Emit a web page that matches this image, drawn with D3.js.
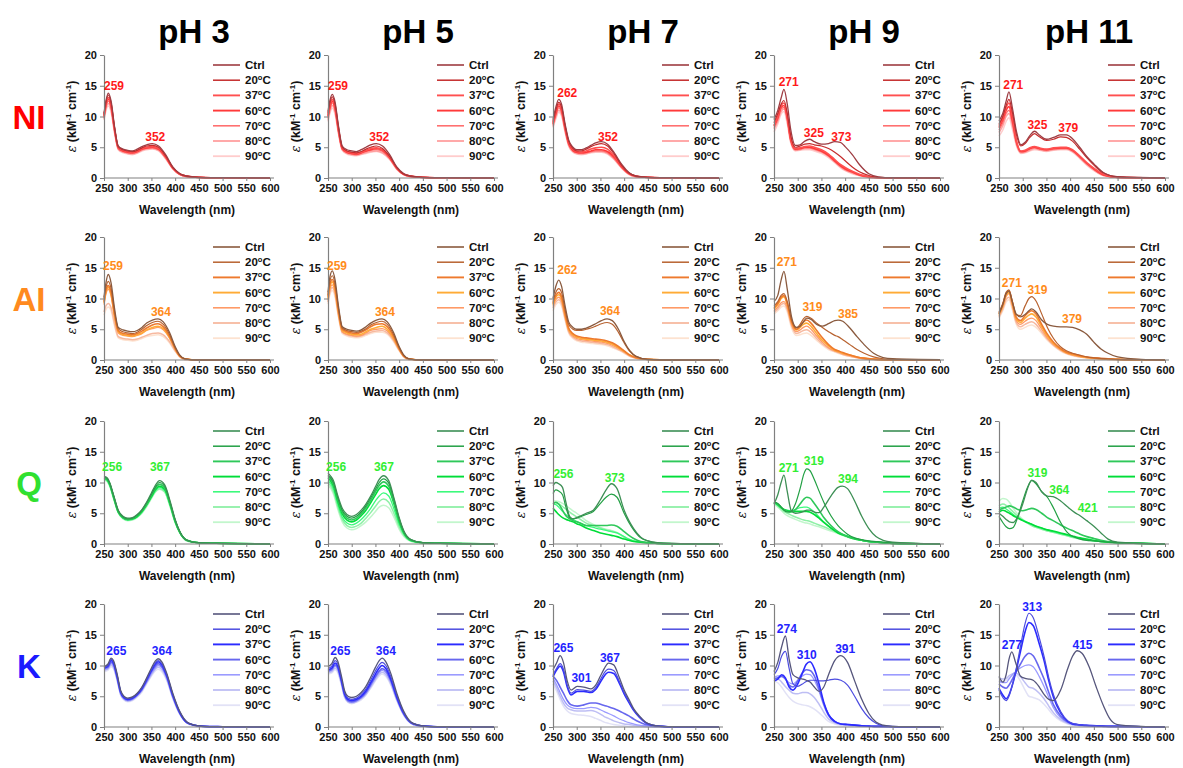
<!DOCTYPE html>
<html><head><meta charset="utf-8">
<script src="https://cdn.jsdelivr.net/npm/d3@7"></script>
<style>body{margin:0;background:#fff;} text{font-family:Arial,"Liberation Sans",sans-serif;}</style>
</head><body><svg id="c" width="1183" height="768"></svg>
<script>
// ---------- categories ----------
const phLabels = ["pH 3","pH 5","pH 7","pH 9","pH 11"];
const compounds = ["NI","AI","Q","K"];
const seriesNames = ["Ctrl","20","37","60","70","80","90"];
const xTicks = [250,300,350,400,450,500,550,600];
const yTicks = [0,5,10,15,20];

// ---------- NI ----------
const wl_NI_3 = [250,254,259,265,272,280,290,300,310,320,330,340,352,365,380,395,410,425,450,500,600];
const NI_3 = [
 [10.5,12.5,13.8,12.5,8.5,5.2,4.7,4.5,4.4,4.7,5.1,5.4,5.6,5.2,3.8,1.8,0.7,0.3,0.1,0.05,0],
 [10.3,12.3,13.5,12.2,8.3,5.1,4.6,4.4,4.3,4.5,4.9,5.2,5.3,5.0,3.6,1.7,0.7,0.3,0.1,0.05,0],
 [10.1,12,13.1,11.9,8.1,5.0,4.5,4.3,4.2,4.4,4.8,5.0,5.1,4.8,3.5,1.7,0.6,0.3,0.1,0,0],
 [10,11.8,12.8,11.6,8.0,4.9,4.4,4.2,4.1,4.3,4.7,4.9,5.0,4.7,3.4,1.6,0.6,0.3,0.1,0,0],
 [9.8,11.5,12.5,11.4,7.8,4.8,4.3,4.1,4.0,4.2,4.6,4.8,4.9,4.6,3.3,1.6,0.6,0.2,0.1,0,0],
 [9.6,11.2,12.1,11,7.6,4.7,4.2,4.0,3.9,4.1,4.5,4.7,4.8,4.5,3.2,1.5,0.6,0.2,0.1,0,0],
 [9.4,10.9,11.7,10.7,7.4,4.6,4.1,3.9,3.8,4.0,4.4,4.6,4.7,4.4,3.1,1.5,0.5,0.2,0.1,0,0]];
const wl_NI_5 = [250,254,259,265,272,280,290,300,310,320,330,340,352,365,380,395,410,425,450,500,600];
const NI_5 = [
 [10.8,12.6,13.6,12.3,8.5,5.2,4.6,4.4,4.3,4.6,5.0,5.4,5.6,5.2,3.8,1.8,0.7,0.3,0.1,0.05,0],
 [10.5,12.2,13.2,12,8.3,5.0,4.4,4.2,4.1,4.3,4.7,5.0,5.2,4.8,3.5,1.7,0.6,0.3,0.1,0.05,0],
 [10.2,11.8,12.8,11.6,8.0,4.9,4.3,4.1,4.0,4.2,4.5,4.8,4.9,4.6,3.4,1.6,0.6,0.3,0.1,0,0],
 [10,11.5,12.5,11.3,7.8,4.8,4.2,4.0,3.9,4.1,4.4,4.6,4.8,4.5,3.3,1.6,0.6,0.3,0.1,0,0],
 [9.8,11.2,12.2,11,7.6,4.7,4.1,3.9,3.8,4.0,4.3,4.5,4.6,4.3,3.2,1.5,0.6,0.2,0.1,0,0],
 [9.5,10.8,11.8,10.7,7.4,4.6,4.0,3.8,3.7,3.9,4.1,4.3,4.4,4.1,3.1,1.5,0.5,0.2,0.1,0,0],
 [9.2,10.5,11.4,10.3,7.2,4.5,3.9,3.7,3.6,3.8,4.0,4.2,4.3,4.0,3.0,1.4,0.5,0.2,0.1,0,0]];
const wl_NI_7 = [250,256,262,268,275,283,292,300,310,320,330,340,352,365,380,395,410,425,450,500,600];
const NI_7 = [
 [9.5,11.5,12.8,12,9,6.2,5.0,4.6,4.6,4.9,5.3,5.7,5.9,5.5,4.0,2.2,0.9,0.3,0.1,0.05,0],
 [9.2,11.0,12.3,11.6,8.7,6.0,4.8,4.4,4.4,4.7,5.1,5.4,5.6,5.2,3.8,2.0,0.8,0.3,0.1,0.05,0],
 [9.0,10.8,12,11.3,8.5,5.8,4.7,4.3,4.2,4.4,4.7,4.9,5.0,4.7,3.5,1.9,0.8,0.3,0.1,0,0],
 [8.8,10.5,11.7,11,8.3,5.6,4.5,4.2,4.1,4.2,4.4,4.6,4.6,4.3,3.3,1.8,0.7,0.3,0.1,0,0],
 [8.6,10.2,11.4,10.7,8,5.5,4.4,4.1,4.0,4.1,4.3,4.4,4.4,4.1,3.1,1.7,0.7,0.2,0.1,0,0],
 [8.4,9.9,11,10.4,7.8,5.3,4.3,4.0,3.9,4.0,4.2,4.3,4.3,4.0,3.0,1.6,0.6,0.2,0.1,0,0],
 [8.2,9.6,10.7,10.1,7.6,5.2,4.2,3.9,3.8,3.9,4.1,4.2,4.2,3.9,2.9,1.6,0.6,0.2,0.1,0,0]];
const wl_NI_9 = [250,258,265,271,278,285,295,305,315,325,335,350,365,378,390,400,415,430,450,470,500,600];
const NI_9 = [
 [9.5,11,13,14.4,12,8,5.3,5.4,6.0,6.3,5.9,5.5,5.6,5.9,5.8,5.1,3.8,2.2,0.7,0.2,0.05,0],
 [9,10.5,12,12.6,10.5,7,5.0,5.2,5.5,5.6,5.4,5.2,4.8,4.2,3.5,2.8,1.8,1.0,0.4,0.1,0.02,0],
 [8.5,10,11.8,12.2,10,6.5,4.8,4.9,5.1,5.2,5.0,4.6,3.9,3.0,2.2,1.7,1.1,0.6,0.2,0.05,0,0],
 [8.5,9.8,11.5,11.8,9.8,6.3,4.7,4.8,5.0,5.0,4.8,4.4,3.7,2.8,2.0,1.5,1.0,0.5,0.2,0.05,0,0],
 [8.2,9.5,11.2,11.5,9.5,6.2,4.6,4.7,4.9,4.9,4.7,4.3,3.6,2.7,1.9,1.4,0.9,0.5,0.2,0.05,0,0],
 [8,9.2,10.8,11.2,9.2,6,4.5,4.6,4.8,4.8,4.6,4.2,3.5,2.6,1.8,1.3,0.8,0.4,0.1,0,0,0],
 [7.5,8.8,10.4,10.8,8.8,5.8,4.4,4.5,4.6,4.6,4.4,4.0,3.3,2.5,1.7,1.2,0.7,0.4,0.1,0,0,0]];
const wl_NI_11 = [250,258,265,271,278,287,296,305,315,325,335,350,365,380,392,405,420,435,450,470,500,600];
const NI_11 = [
 [9.3,10.5,12.5,14.0,11.5,7.5,5.4,5.8,6.9,7.6,7.0,6.3,6.6,7.0,7.0,6.4,5.0,3.5,2.3,0.9,0.2,0],
 [8.8,10,11.8,12.8,10.8,7,5.2,5.6,6.6,7.2,6.7,6.1,6.3,6.7,6.6,6.0,4.7,3.3,2.1,0.8,0.2,0],
 [8.5,9.8,11.5,12.2,10,6,4.4,4.5,4.9,5.1,4.9,4.7,4.9,5.0,5.0,4.6,3.6,2.5,1.6,0.6,0.1,0],
 [8.2,9.5,11,11.6,9.5,5.8,4.3,4.4,4.8,5.0,4.8,4.6,4.8,4.9,4.9,4.5,3.5,2.4,1.5,0.5,0.1,0],
 [7.8,9,10.5,11.0,9.0,5.6,4.2,4.3,4.7,4.9,4.7,4.5,4.7,4.8,4.8,4.4,3.4,2.3,1.4,0.5,0.1,0],
 [7.4,8.5,10,10.5,8.6,5.4,4.1,4.2,4.5,4.8,4.6,4.4,4.6,4.7,4.7,4.3,3.3,2.2,1.3,0.4,0.1,0],
 [6.8,7.8,9.2,9.8,8.0,5.2,4.0,4.1,4.4,4.6,4.5,4.3,4.5,4.6,4.6,4.2,3.2,2.1,1.2,0.4,0.1,0]];

// ---------- AI ----------
const wl_AI_3 = [250,254,259,265,272,280,290,300,310,320,330,340,352,364,375,388,400,410,420,450,600];
const AI_3 = [
 [10.2,12.5,13.9,12.5,8.5,5.3,4.9,4.7,4.6,4.8,5.3,6.0,6.5,6.7,6.2,4.5,2.2,0.8,0.2,0,0],
 [10,11.8,12.8,11.6,8,5.1,4.6,4.4,4.3,4.5,5.0,5.6,6.1,6.3,5.8,4.2,2.0,0.7,0.2,0,0],
 [9.5,11.3,12.1,11,7.6,4.8,4.3,4.2,4.1,4.3,4.7,5.2,5.7,5.9,5.4,3.9,1.9,0.6,0.2,0,0],
 [9.3,11,11.8,10.7,7.3,4.6,4.1,4.0,3.9,4.1,4.4,4.9,5.3,5.5,5.1,3.7,1.8,0.6,0.2,0,0],
 [9,10.7,11.5,10.4,7,4.4,4.0,3.9,3.8,4.0,4.3,4.8,5.1,5.3,4.9,3.6,1.7,0.6,0.2,0,0],
 [7.8,8.8,9.2,8.5,6,3.8,3.5,3.4,3.3,3.4,3.7,4.0,4.3,4.4,4.1,3.0,1.5,0.5,0.1,0,0],
 [7.3,8.2,8.6,8,5.6,3.6,3.3,3.2,3.1,3.2,3.5,3.8,4.0,4.1,3.8,2.8,1.4,0.5,0.1,0,0]];
const wl_AI_5 = [250,254,259,265,272,280,290,300,310,320,330,340,352,364,375,388,400,410,420,450,600];
const AI_5 = [
 [11,13.5,14.5,13,8.8,5.4,5.0,4.8,4.7,4.9,5.4,6.0,6.5,6.7,6.2,4.5,2.2,0.8,0.2,0,0],
 [10.6,12.8,13.7,12.3,8.4,5.2,4.8,4.6,4.5,4.7,5.1,5.7,6.1,6.3,5.8,4.2,2.0,0.7,0.2,0,0],
 [10.3,12.3,13.1,11.8,8.1,5.0,4.6,4.4,4.3,4.5,4.9,5.4,5.8,5.9,5.4,3.9,1.9,0.6,0.2,0,0],
 [10,11.9,12.7,11.4,7.8,4.8,4.4,4.2,4.1,4.2,4.6,5.0,5.3,5.5,5.0,3.6,1.8,0.6,0.2,0,0],
 [9.7,11.5,12.2,11,7.5,4.6,4.2,4.0,3.9,4.0,4.4,4.8,5.0,5.1,4.7,3.4,1.7,0.6,0.2,0,0],
 [9.4,11,11.8,10.6,7.2,4.5,4.1,3.9,3.8,3.9,4.2,4.5,4.7,4.8,4.4,3.2,1.6,0.5,0.1,0,0],
 [9.1,10.6,11.3,10.2,7.0,4.3,3.9,3.7,3.6,3.7,4.0,4.3,4.5,4.5,4.2,3.0,1.5,0.5,0.1,0,0]];
const wl_AI_7 = [250,256,262,268,275,283,292,300,310,320,330,340,352,364,375,388,400,412,425,450,500,600];
const AI_7 = [
 [10,12,13,12,9,6.2,5.3,5.0,5.0,5.2,5.5,5.9,6.4,6.7,6.4,5.0,3.0,1.5,0.6,0.1,0,0],
 [9.5,11,11.6,11,8.4,5.8,5.0,4.8,4.8,5.0,5.2,5.5,5.9,6.1,5.8,4.5,2.8,1.4,0.6,0.1,0,0],
 [9.2,10.5,11.0,10.3,7.8,5.2,4.3,3.9,3.7,3.6,3.5,3.4,3.3,3.1,2.8,2.2,1.5,0.8,0.4,0.1,0,0],
 [9.0,10.2,10.6,10.0,7.5,5.0,4.1,3.7,3.5,3.4,3.3,3.2,3.1,2.9,2.6,2.0,1.4,0.8,0.4,0.1,0,0],
 [8.7,9.8,10.2,9.6,7.2,4.8,3.9,3.5,3.3,3.2,3.1,3.0,2.9,2.7,2.4,1.9,1.3,0.7,0.3,0.1,0,0],
 [8.4,9.4,9.8,9.2,6.9,4.6,3.7,3.3,3.1,3.0,2.9,2.8,2.7,2.5,2.2,1.7,1.2,0.6,0.3,0.1,0,0],
 [8.0,9.0,9.4,8.8,6.6,4.4,3.5,3.1,2.9,2.8,2.7,2.6,2.5,2.3,2.0,1.6,1.1,0.6,0.3,0.1,0,0]];
const wl_AI_9 = [250,258,265,271,278,287,297,305,312,319,328,340,352,365,378,385,395,410,425,440,460,480,500,600];
const AI_9 = [
 [9.5,10.5,13,14.4,11.5,7,5.3,5.5,6.2,6.8,6.6,5.8,5.5,5.9,6.4,6.5,6.3,5.2,3.8,2.5,1.1,0.4,0.2,0.05],
 [8.8,9.5,10.5,10.8,9.5,6.5,5.2,5.8,6.7,7.1,6.8,6.0,5.3,4.6,4.0,3.8,3.3,2.5,1.7,1.1,0.5,0.2,0.1,0],
 [8.5,9.2,10.2,10.5,9.2,6.3,5.0,5.5,6.2,6.5,6.0,4.8,3.6,2.5,1.7,1.5,1.2,0.8,0.5,0.3,0.15,0.05,0,0],
 [8.3,9,10,10.3,9,6.2,4.9,5.3,5.8,6.0,5.5,4.3,3.2,2.3,1.6,1.4,1.1,0.8,0.5,0.3,0.15,0.05,0,0],
 [8,8.6,9.3,9.5,8.5,5.8,4.6,4.9,5.3,5.5,5.0,3.9,2.9,2.0,1.5,1.3,1.0,0.7,0.4,0.2,0.1,0,0,0],
 [7.8,8.3,9,9.2,8.2,5.6,4.3,4.5,4.8,4.9,4.5,3.5,2.6,1.9,1.4,1.2,0.9,0.6,0.4,0.2,0.1,0,0,0],
 [7.5,8,8.6,8.8,7.8,5.2,4.0,4.1,4.3,4.4,4.0,3.2,2.4,1.7,1.3,1.1,0.9,0.6,0.4,0.2,0.1,0,0,0]];
const wl_AI_11 = [250,258,265,271,278,286,295,305,313,319,328,340,352,365,379,392,405,420,435,450,465,480,500,550,600];
const AI_11 = [
 [7.5,9,10.8,11.2,9.5,7.5,7.0,7.4,8.0,8.3,7.8,6.5,5.8,5.5,5.4,5.4,5.3,4.9,4.2,2.9,1.8,1.1,0.5,0.1,0],
 [7.8,9.2,11,11.4,9.6,7.4,7.2,8.8,10.0,10.3,9.6,7.5,5.3,3.5,2.2,1.5,1.1,0.8,0.5,0.35,0.25,0.2,0.1,0.05,0],
 [7.6,9,10.8,11.3,9.4,7.0,6.4,7.2,7.8,8.0,7.5,5.8,4.2,2.9,1.9,1.3,1.0,0.7,0.5,0.35,0.25,0.2,0.1,0.05,0],
 [7.4,8.8,10.6,11.0,9.2,6.8,6.1,6.8,7.3,7.5,7.0,5.4,3.9,2.7,1.8,1.2,0.9,0.6,0.4,0.3,0.2,0.15,0.1,0,0],
 [7.2,8.6,10.3,10.8,9.0,6.5,5.8,6.3,6.7,6.8,6.4,5.0,3.6,2.5,1.7,1.1,0.8,0.6,0.4,0.3,0.2,0.1,0.1,0,0],
 [7.0,8.3,9.8,10.2,8.6,6.2,5.4,5.8,6.1,6.2,5.8,4.6,3.4,2.4,1.6,1.1,0.8,0.5,0.4,0.3,0.2,0.1,0.1,0,0],
 [6.8,8.0,9.4,9.8,8.2,5.9,5.0,5.3,5.6,5.7,5.3,4.3,3.2,2.3,1.5,1.0,0.7,0.5,0.3,0.2,0.2,0.1,0,0,0]];

// ---------- Q ----------
const wl_Q_3 = [250,256,262,270,280,290,300,310,320,330,340,350,358,367,378,390,400,410,425,450,500,600];
const Q_3 = [
 [11.0,10.8,10.0,8.0,5.5,4.5,4.2,4.3,4.8,5.6,6.8,8.3,9.5,10.3,9.6,6.8,4.0,2.0,0.6,0.2,0.1,0],
 [10.9,10.7,9.9,7.9,5.4,4.4,4.1,4.2,4.7,5.5,6.7,8.1,9.2,10.0,9.4,6.6,3.9,2.0,0.6,0.2,0.1,0],
 [10.8,10.6,9.8,7.8,5.3,4.3,4.0,4.1,4.6,5.4,6.5,7.9,9.0,9.7,9.1,6.4,3.8,1.9,0.6,0.2,0.1,0],
 [10.7,10.5,9.7,7.7,5.2,4.3,4.0,4.1,4.5,5.3,6.4,7.7,8.8,9.4,8.9,6.3,3.7,1.9,0.6,0.2,0.1,0],
 [10.6,10.4,9.6,7.6,5.2,4.2,3.9,4.0,4.4,5.2,6.3,7.6,8.6,9.2,8.7,6.2,3.6,1.8,0.6,0.2,0.1,0],
 [10.5,10.3,9.5,7.5,5.1,4.2,3.9,4.0,4.4,5.1,6.2,7.5,8.5,9.0,8.5,6.0,3.5,1.8,0.5,0.2,0.1,0],
 [10.4,10.2,9.4,7.4,5.1,4.1,3.8,3.9,4.3,5.0,6.1,7.4,8.4,8.9,8.4,5.9,3.5,1.8,0.5,0.2,0.1,0]];
const wl_Q_5 = [250,256,262,270,280,290,300,310,320,330,340,350,358,367,378,390,400,410,425,450,500,600];
const Q_5 = [
 [11.5,11,10.2,8.0,5.8,4.8,4.5,4.8,5.5,6.5,7.8,9.3,10.5,11.1,10.3,7.2,4.3,2.1,0.7,0.2,0.1,0],
 [11.2,10.7,9.9,7.7,5.5,4.5,4.2,4.5,5.2,6.2,7.5,8.9,10.0,10.6,9.9,7.0,4.1,2.0,0.7,0.2,0.1,0],
 [11.0,10.5,9.6,7.4,5.2,4.2,3.9,4.2,4.9,5.9,7.1,8.5,9.5,10.1,9.4,6.6,3.9,1.9,0.6,0.2,0.1,0],
 [10.7,10.2,9.3,7.1,4.9,3.9,3.6,3.9,4.6,5.5,6.7,8.0,9.0,9.5,8.9,6.3,3.7,1.8,0.6,0.2,0.1,0],
 [10.3,9.8,8.8,6.6,4.4,3.4,3.1,3.4,4.0,4.8,5.8,7.0,7.8,8.3,7.8,5.5,3.2,1.6,0.5,0.2,0.1,0],
 [10.0,9.4,8.4,6.2,4.0,3.0,2.7,2.9,3.4,4.2,5.1,6.1,6.9,7.3,6.8,4.8,2.8,1.4,0.5,0.2,0.1,0],
 [9.6,9.0,8.0,5.8,3.6,2.6,2.3,2.5,3.0,3.6,4.4,5.3,6.0,6.3,5.9,4.2,2.4,1.2,0.4,0.1,0.05,0]];
const wl_Q_7 = [250,256,262,270,278,285,292,300,310,320,335,350,362,373,385,400,410,420,435,450,470,500,600];
const Q_7 = [
 [9.5,10.0,9.8,9.2,6.5,4.5,4.1,4.3,4.6,5.0,5.5,7.2,8.8,9.8,9.0,5.5,3.8,2.5,1.1,0.5,0.2,0.1,0],
 [8.2,8.8,8.6,8.0,5.8,4.3,4.1,4.2,4.5,4.8,5.3,6.6,7.6,8.1,7.6,5.0,3.5,2.3,1.0,0.5,0.2,0.1,0],
 [6.5,6.8,6.5,5.5,4.5,4.1,3.8,3.6,3.3,3.0,3.0,3.0,3.0,3.1,2.9,2.0,1.4,0.9,0.4,0.2,0.1,0.05,0],
 [5.8,5.3,4.8,4.3,4.0,3.8,3.6,3.3,3.0,2.6,2.2,1.8,1.6,1.4,1.2,0.8,0.6,0.4,0.3,0.2,0.1,0,0],
 [6.5,6.4,6.0,5.3,4.7,4.3,4.0,3.7,3.3,3.0,2.7,2.4,2.2,2.0,1.8,1.2,0.8,0.5,0.3,0.2,0.1,0,0],
 [6.8,6.7,6.5,6.1,5.6,5.2,4.8,4.4,3.9,3.4,3.0,2.6,2.3,2.1,1.8,1.1,0.7,0.5,0.3,0.2,0.1,0,0],
 [7.0,7.0,6.9,6.6,6.2,5.8,5.4,5.0,4.4,3.8,3.2,2.7,2.4,2.2,1.9,1.2,0.8,0.5,0.3,0.2,0.1,0,0]];
const wl_Q_9 = [250,258,265,271,278,286,295,305,313,319,325,335,345,355,370,385,394,405,420,435,450,465,480,500,550,600];
const Q_9 = [
 [6.5,8,10,11.2,8.5,5.5,5.0,5.1,5.3,5.5,5.5,5.2,5.1,6.0,7.8,9.2,9.4,9.0,7.0,4.5,2.5,1.2,0.6,0.3,0.1,0],
 [6.8,6.6,6.0,5.5,5.2,5.3,6.5,9.0,11.4,12.2,12.0,10.5,8.6,6.8,4.6,3.0,2.3,1.6,1.0,0.7,0.5,0.4,0.3,0.2,0.1,0],
 [6.8,6.5,6.0,5.6,5.3,5.2,5.6,6.5,7.3,7.6,7.5,6.6,5.5,4.3,3.0,2.0,1.6,1.2,0.9,0.6,0.4,0.3,0.2,0.1,0.05,0],
 [6.8,6.4,5.9,5.6,5.4,5.3,5.3,5.3,5.3,5.3,5.2,4.8,4.2,3.5,2.6,1.8,1.5,1.2,0.8,0.6,0.4,0.3,0.2,0.1,0.05,0],
 [6.7,6.3,5.9,5.6,5.5,5.4,5.6,5.9,6.0,6.0,5.8,5.2,4.4,3.6,2.6,1.9,1.6,1.3,0.9,0.6,0.4,0.3,0.2,0.1,0,0],
 [6.6,6.2,5.7,5.3,5.0,4.7,4.4,4.1,3.9,3.8,3.7,3.4,3.1,2.8,2.3,1.8,1.5,1.2,0.9,0.6,0.4,0.3,0.2,0.1,0,0],
 [6.5,6.0,5.5,5.0,4.6,4.3,4.0,3.7,3.5,3.4,3.3,3.0,2.8,2.5,2.1,1.7,1.4,1.1,0.8,0.6,0.4,0.3,0.2,0.1,0,0]];
const wl_Q_11 = [250,258,265,272,280,290,300,310,319,328,340,352,364,380,395,410,421,435,450,465,480,500,550,600];
const Q_11 = [
 [5.0,4.5,4.0,3.6,3.5,4.5,6.5,9.0,10.4,10.0,8.5,7.8,7.7,7.0,6.0,5.1,4.6,3.8,2.9,1.8,0.8,0.3,0.1,0],
 [4.5,3.5,2.8,2.5,2.7,4.5,7.0,9.2,10.3,9.8,8.5,7.6,6.0,3.5,1.8,1.1,0.8,0.6,0.5,0.4,0.3,0.2,0.1,0],
 [5.5,5.8,6.0,6.2,6.0,5.6,5.4,5.6,5.8,5.6,5.0,4.3,3.8,3.1,2.5,2.0,1.6,1.2,0.9,0.6,0.4,0.2,0.1,0],
 [5.2,5.5,5.3,5.0,4.6,4.2,3.8,3.5,3.2,2.9,2.6,2.3,2.1,1.8,1.5,1.2,1.0,0.8,0.6,0.4,0.3,0.2,0.1,0],
 [5.8,6.0,5.7,5.3,4.8,4.3,3.9,3.5,3.2,2.9,2.6,2.3,2.0,1.7,1.4,1.1,0.9,0.7,0.5,0.4,0.3,0.2,0.1,0],
 [6.2,6.5,6.3,5.8,5.2,4.5,3.9,3.4,3.0,2.7,2.4,2.1,1.9,1.6,1.3,1.0,0.9,0.7,0.5,0.4,0.3,0.2,0.1,0],
 [7.0,7.4,7.3,6.8,5.8,4.8,4.0,3.4,3.0,2.7,2.4,2.1,1.9,1.6,1.3,1.0,0.8,0.6,0.5,0.4,0.3,0.2,0.1,0]];

// ---------- K ----------
const wl_K_3 = [250,258,265,270,278,285,292,300,310,320,330,340,350,358,364,372,382,395,410,425,440,460,500,600];
const K_3 = [
 [9.8,10.2,11.2,10.8,8.5,6.0,5.0,4.7,4.9,5.5,6.5,8.0,9.6,10.7,11.1,10.6,8.8,5.5,2.5,0.8,0.3,0.1,0.05,0],
 [9.7,10.0,11.0,10.6,8.3,5.8,4.9,4.6,4.8,5.4,6.4,7.8,9.4,10.4,10.8,10.3,8.6,5.3,2.4,0.8,0.3,0.1,0.05,0],
 [9.6,9.9,10.8,10.4,8.1,5.7,4.8,4.5,4.7,5.3,6.3,7.7,9.2,10.2,10.6,10.1,8.4,5.2,2.3,0.7,0.3,0.1,0.05,0],
 [9.5,9.7,10.5,10.2,7.9,5.6,4.7,4.4,4.6,5.2,6.1,7.5,9.0,9.9,10.3,9.8,8.2,5.0,2.2,0.7,0.3,0.1,0.05,0],
 [9.3,9.5,10.3,9.9,7.7,5.4,4.6,4.3,4.5,5.1,6.0,7.3,8.7,9.6,10.0,9.6,8.0,4.9,2.2,0.7,0.3,0.1,0,0],
 [9.2,9.4,10.1,9.7,7.6,5.3,4.5,4.2,4.4,5.0,5.9,7.2,8.5,9.4,9.7,9.3,7.8,4.8,2.1,0.7,0.3,0.1,0,0],
 [9.0,9.2,9.8,9.5,7.4,5.2,4.4,4.1,4.3,4.9,5.7,7.0,8.3,9.1,9.4,9.0,7.6,4.6,2.0,0.6,0.2,0.1,0,0]];
const wl_K_5 = [250,258,265,270,278,285,292,300,310,320,330,340,350,358,364,372,382,395,410,425,440,460,500,600];
const K_5 = [
 [9.8,10.3,11.3,10.8,8.4,5.9,5.0,4.8,5.0,5.6,6.6,8.1,9.7,10.8,11.2,10.6,8.8,5.5,2.5,0.8,0.3,0.1,0.05,0],
 [9.5,9.9,10.8,10.4,8.0,5.6,4.7,4.5,4.7,5.3,6.2,7.6,9.1,10.1,10.5,10.0,8.3,5.2,2.3,0.7,0.3,0.1,0.05,0],
 [9.3,9.6,10.4,10.0,7.7,5.4,4.5,4.3,4.5,5.0,5.9,7.2,8.6,9.6,10.0,9.5,7.9,4.9,2.2,0.7,0.3,0.1,0,0],
 [9.1,9.4,10.1,9.7,7.5,5.2,4.3,4.1,4.3,4.8,5.6,6.9,8.2,9.1,9.5,9.1,7.6,4.7,2.1,0.7,0.3,0.1,0,0],
 [9.0,9.2,9.9,9.5,7.3,5.1,4.2,4.0,4.2,4.7,5.5,6.7,8.0,8.9,9.2,8.8,7.4,4.6,2.0,0.6,0.2,0.1,0,0],
 [8.8,9.0,9.6,9.2,7.1,4.9,4.1,3.9,4.1,4.6,5.3,6.5,7.7,8.6,8.9,8.5,7.1,4.4,1.9,0.6,0.2,0.1,0,0],
 [8.6,8.8,9.3,8.9,6.9,4.8,4.0,3.8,4.0,4.4,5.2,6.3,7.5,8.3,8.6,8.2,6.9,4.3,1.9,0.6,0.2,0.1,0,0]];
const wl_K_7 = [250,258,265,272,280,288,301,315,330,340,350,358,367,378,390,400,410,420,432,445,460,480,500,600];
const K_7 = [
 [9.3,10.5,11.6,10.5,7.5,6.0,6.6,6.5,6.2,6.8,8.3,9.5,10.4,10.1,8.0,6.0,4.5,3.0,1.8,0.8,0.3,0.1,0.05,0],
 [8.5,9.6,10.3,9.4,6.8,5.5,6.1,6.0,5.8,6.4,7.7,8.8,9.4,9.2,7.4,5.6,4.2,2.8,1.7,0.7,0.3,0.1,0.05,0],
 [8.2,9.3,9.9,9.0,6.5,5.2,5.8,5.8,5.6,6.1,7.3,8.3,8.9,8.7,7.1,5.4,4.0,2.7,1.6,0.7,0.3,0.1,0,0],
 [8.3,7.5,6.5,5.5,4.3,3.6,3.4,3.6,3.9,3.9,3.7,3.5,3.3,3.0,2.6,2.2,1.8,1.3,0.8,0.4,0.2,0.1,0,0],
 [7.9,6.8,5.6,4.5,3.6,3.2,3.0,3.0,3.2,3.1,2.8,2.5,2.2,1.8,1.3,1.0,0.7,0.5,0.3,0.2,0.1,0,0,0],
 [7.5,6.3,5.0,3.9,3.1,2.8,2.6,2.6,2.7,2.5,2.1,1.7,1.4,1.0,0.7,0.5,0.4,0.3,0.2,0.1,0,0,0,0],
 [7.0,5.8,4.5,3.4,2.6,2.2,2.0,1.9,1.7,1.4,1.1,0.8,0.6,0.4,0.3,0.2,0.1,0.1,0.1,0,0,0,0,0]];
const wl_K_9 = [250,258,266,274,282,290,300,310,318,326,335,345,355,365,378,391,405,420,435,450,465,480,500,550,600];
const K_9 = [
 [9.0,10.5,13.0,14.8,11.0,8.5,8.0,7.8,7.6,7.3,6.5,5.8,6.5,8.5,10.8,11.6,10.5,7.5,4.5,2.2,0.8,0.3,0.1,0.05,0],
 [8.5,9.5,11.5,12.3,9.5,7.0,6.6,7.0,7.4,7.6,7.6,7.5,7.5,7.6,7.8,7.6,6.8,5.0,3.0,1.5,0.6,0.2,0.1,0,0],
 [7.5,7.8,8.5,8.0,6.5,6.0,7.0,8.8,10.2,10.6,9.5,7.0,4.0,2.0,0.9,0.5,0.4,0.3,0.2,0.15,0.1,0.1,0.05,0,0],
 [7.8,8.0,8.2,7.8,6.8,6.5,7.5,8.8,9.3,9.2,8.3,6.2,3.8,2.0,0.9,0.5,0.4,0.3,0.2,0.15,0.1,0.1,0.05,0,0],
 [8.0,8.3,8.3,7.8,7.2,7.0,7.6,8.3,8.6,8.5,7.6,5.8,3.5,1.8,0.8,0.5,0.4,0.3,0.2,0.1,0.1,0.05,0,0,0],
 [7.8,7.8,7.3,6.6,6.0,5.5,5.4,5.6,5.6,5.4,4.8,3.7,2.4,1.3,0.7,0.4,0.3,0.2,0.2,0.1,0.1,0.05,0,0,0],
 [7.5,7.2,6.5,5.6,4.8,4.2,3.8,3.6,3.5,3.3,2.9,2.3,1.6,0.9,0.5,0.3,0.2,0.2,0.1,0.1,0.05,0,0,0,0]];
const wl_K_11 = [250,258,265,271,277,285,295,305,313,322,335,345,355,365,380,395,405,415,425,440,455,470,485,500,550,600];
const K_11 = [
 [8.2,7.3,8.5,11.0,12.2,10.5,8.3,7.9,7.8,7.6,6.5,5.3,4.5,4.3,6.0,9.5,11.5,12.4,12.0,9.8,6.5,3.5,1.2,0.4,0.1,0],
 [6.0,4.8,4.3,5.0,6.5,9.0,13.0,16.8,18.5,17.8,14.5,11.5,8.0,5.2,2.5,1.0,0.6,0.4,0.3,0.25,0.2,0.15,0.1,0.1,0.05,0],
 [6.3,5.2,4.6,5.2,6.5,8.8,12.2,15.5,17.0,16.5,13.5,10.8,7.5,4.8,2.3,0.9,0.5,0.4,0.3,0.25,0.2,0.15,0.1,0.1,0.05,0],
 [7.0,6.5,6.3,6.8,7.6,8.8,10.2,11.5,12.0,11.6,9.6,7.8,5.6,3.6,1.8,0.8,0.5,0.4,0.3,0.2,0.2,0.1,0.1,0.1,0.05,0],
 [7.5,7.2,7.2,7.8,8.4,9.0,9.6,10.0,10.1,9.8,8.2,6.6,4.8,3.1,1.5,0.7,0.4,0.3,0.3,0.2,0.2,0.1,0.1,0.1,0,0],
 [8.0,7.8,7.9,8.3,8.6,8.8,8.2,7.2,6.5,6.3,5.5,4.6,3.4,2.3,1.2,0.6,0.4,0.3,0.2,0.2,0.1,0.1,0.1,0,0,0],
 [7.5,7.4,7.6,8.0,8.3,8.5,7.5,6.0,5.0,4.8,4.4,3.7,2.8,1.9,1.0,0.5,0.3,0.3,0.2,0.2,0.1,0.1,0,0,0,0]];

// ---------- peak annotations: [text, wavelength, epsilon] ----------
const peaks_NI = [[["259",271,14.9],["352",358,6.6]],[["259",271,14.9],["352",358,6.6]],[["262",280,13.8],["352",366,6.7]],[["271",281,15.6],["325",334,7.3],["373",392,6.6]],[["271",280,15.1],["325",331,8.6],["379",396,8.1]]];
const peaks_AI = [[["259",269,15.3],["364",370,7.8]],[["259",269,15.3],["364",370,7.8]],[["262",280,14.6],["364",370,8.0]],[["271",277,15.9],["319",331,8.6],["385",406,7.4]],[["271",277,12.6],["319",331,11.4],["379",404,6.6]]];
const peaks_Q = [[["256",267,12.5],["367",368,12.5]],[["256",267,12.5],["367",368,12.5]],[["256",272,11.4],["373",380,10.8]],[["271",281,12.3],["319",334,13.5],["394",406,10.5]],[["319",331,11.5],["364",377,8.8],["421",437,5.8]]];
const peaks_K = [[["265",276,12.4],["364",372,12.4]],[["265",276,12.4],["364",372,12.4]],[["265",272,12.8],["301",310,8.0],["367",370,11.3]],[["274",277,15.9],["310",319,11.7],["391",400,12.7]],[["277",277,13.3],["313",320,19.5],["415",426,13.3]]];

// ---------- styles ----------
const palettes = {
 NI:["#9e3c42","#c42b2b","#ff5050","#ff3a3a","#ff7070","#ffa0a0","#ffcccc"],
 AI:["#8a5a3e","#b8622f","#ee7a2e","#ffab36","#ff9a66","#f7b9a0","#fde2d0"],
 Q:["#3d8f55","#22a044","#2fc85a","#00dd38","#3cfa7c","#8ef0a6","#c2f6cc"],
 K:["#56567c","#4c4ce0","#2b2bff","#6767ee","#9b9bff","#bebef4","#e2e2f6"]};
const labelColors = {NI:"#ff1a1a", AI:"#ff8c1a", Q:"#33ee33", K:"#2424ff"};
const rowLabelColors = {NI:"#ff0000", AI:"#ff8a1e", Q:"#30e030", K:"#1a1aff"};
const widths = [1.3,1.2,1.6,1.6,1.3,1.5,1.5];

const dataTable = {
 NI:[[wl_NI_3,NI_3],[wl_NI_5,NI_5],[wl_NI_7,NI_7],[wl_NI_9,NI_9],[wl_NI_11,NI_11]],
 AI:[[wl_AI_3,AI_3],[wl_AI_5,AI_5],[wl_AI_7,AI_7],[wl_AI_9,AI_9],[wl_AI_11,AI_11]],
 Q:[[wl_Q_3,Q_3],[wl_Q_5,Q_5],[wl_Q_7,Q_7],[wl_Q_9,Q_9],[wl_Q_11,Q_11]],
 K:[[wl_K_3,K_3],[wl_K_5,K_5],[wl_K_7,K_7],[wl_K_9,K_9],[wl_K_11,K_11]]};
const peakTable = {NI:peaks_NI, AI:peaks_AI, Q:peaks_Q, K:peaks_K};

// ---------- layout ----------
const colX = [104, 328, 553, 774, 999];
const rowY = [55, 237, 421, 604];
const PW = 166, PH = 123, AXEXT = 4;

const svg = d3.select("#c");
svg.append("rect").attr("width",1183).attr("height",768).attr("fill","#fff");

phLabels.forEach((p,i)=>{
  svg.append("text").attr("x", colX[i]+90).attr("y", 43).attr("text-anchor","middle")
    .attr("font-size", 33).attr("font-weight","bold").attr("fill","#000").text(p);
});
compounds.forEach((c,r)=>{
  svg.append("text").attr("x", 29).attr("y", rowY[r]+74).attr("text-anchor","middle")
    .attr("font-size", 33).attr("font-weight","bold").attr("fill", rowLabelColors[c]).text(c);
});

const x = d3.scaleLinear().domain([250,600]).range([0,PW]);
const y = d3.scaleLinear().domain([0,20]).range([PH,0]);
const line = d3.line().x(d=>x(d[0])).y(d=>y(d[1])).curve(d3.curveMonotoneX);

compounds.forEach((c,r)=>{
  phLabels.forEach((p,ci)=>{
    const g = svg.append("g").attr("transform",`translate(${colX[ci]},${rowY[r]})`);
    const [wl, curves] = dataTable[c][ci];
    for (let i = curves.length-1; i>=0; i--) {
      const pts = wl.map((w,j)=>[w, curves[i][j]]);
      g.append("path").attr("d", line(pts)).attr("fill","none")
        .attr("stroke", palettes[c][i]).attr("stroke-width", widths[i]).attr("stroke-linejoin","round");
    }
    const xa = g.append("g").attr("transform",`translate(0,${PH})`)
      .call(d3.axisBottom(x).tickValues(xTicks).tickSize(3).tickPadding(3).tickSizeOuter(0));
    const ya = g.append("g")
      .call(d3.axisLeft(y).tickValues(yTicks).tickSize(4).tickPadding(3).tickSizeOuter(0));
    [xa,ya].forEach(a=>{
      a.select(".domain").attr("stroke","#808080").attr("stroke-width",1.2);
      a.selectAll(".tick line").attr("stroke","#808080");
      a.selectAll("text").attr("font-size",11).attr("font-weight","bold").attr("fill","#111")
        .attr("font-family","Arial, 'Liberation Sans', sans-serif");
    });
    xa.select(".domain").attr("d", `M0,0H${PW+AXEXT}`);
    g.append("text").attr("x", PW/2).attr("y", PH+36).attr("text-anchor","middle")
      .attr("font-size",12).attr("font-weight","bold").attr("fill","#111").text("Wavelength (nm)");
    const yt = g.append("text").attr("transform",`translate(-28,${PH/2}) rotate(-90)`)
      .attr("text-anchor","middle").attr("font-size",12.5).attr("font-weight","bold").attr("fill","#111");
    yt.append("tspan").attr("font-style","italic").attr("font-family","'DejaVu Serif', serif").attr("font-weight","normal").text("ε");
    yt.append("tspan").text(" (kM");
    yt.append("tspan").attr("dy",-5).attr("font-size",8).text("-1");
    yt.append("tspan").attr("dy",5).text(" cm");
    yt.append("tspan").attr("dy",-5).attr("font-size",8).text("-1");
    yt.append("tspan").attr("dy",5).text(")");
    peakTable[c][ci].forEach(([t,w,v])=>{
      g.append("text").attr("x", x(w)).attr("y", y(v)+4).attr("text-anchor","middle")
        .attr("font-size",12).attr("font-weight","bold").attr("fill", labelColors[c]).text(t);
    });
    seriesNames.forEach((s,i)=>{
      const ly = 10 + i*15.2;
      g.append("line").attr("x1",109).attr("x2",136).attr("y1",ly).attr("y2",ly)
        .attr("stroke", palettes[c][i]).attr("stroke-width", widths[i]+0.3);
      const t = g.append("text").attr("x",141).attr("y",ly+4).attr("font-size",11.5)
        .attr("font-weight","bold").attr("fill","#111");
      if (s === "Ctrl") t.text("Ctrl");
      else {
        t.append("tspan").text(s);
        t.append("tspan").attr("dy",-4).attr("font-size",7.5).text("o");
        t.append("tspan").attr("dy",4).text("C");
      }
    });
  });
});
</script></body></html>
